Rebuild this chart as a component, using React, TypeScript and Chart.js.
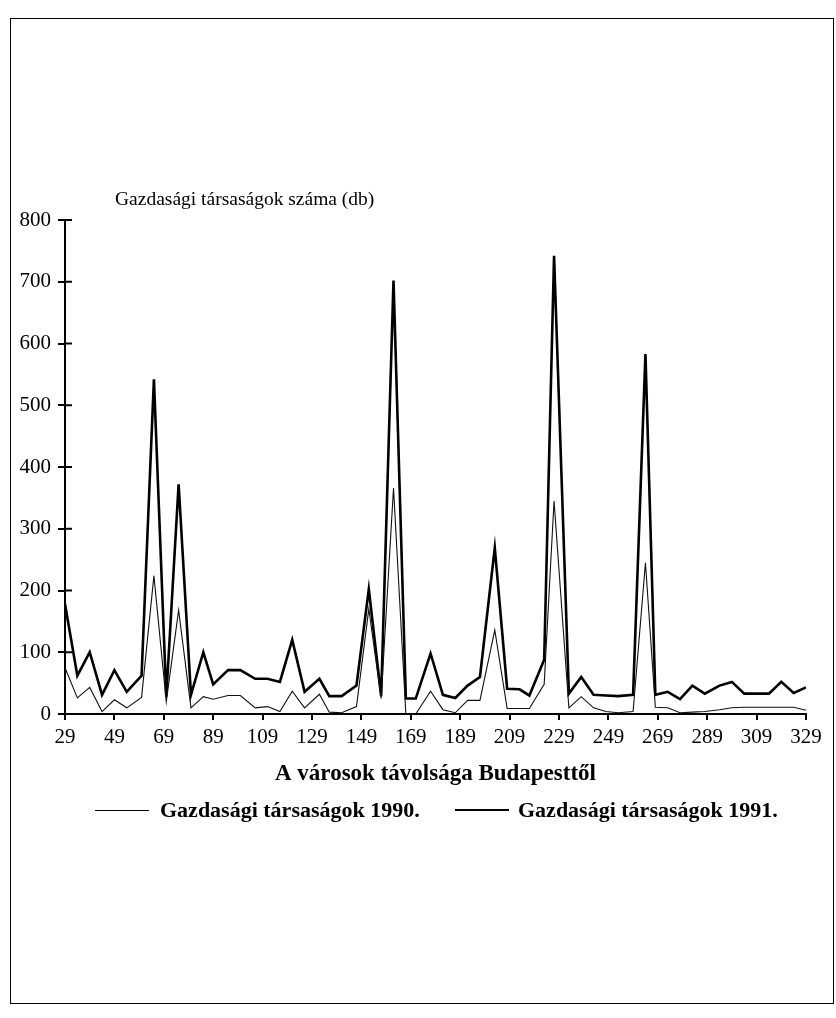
import React, { useEffect, useRef } from 'react';
import { Chart, registerables } from 'chart.js';

Chart.register(...registerables);

// Distance of each town from Budapest (km)
const distances = [
  29, 34, 39, 44, 49, 54, 60, 65, 70, 75,
  80, 85, 89, 95, 100, 106, 111, 116, 121, 126,
  132, 136, 141, 147, 152, 157, 162, 167, 171, 177,
  182, 187, 192, 197, 203, 208, 213, 217, 223, 227,
  233, 238, 243, 248, 253, 259, 264, 268, 273, 278,
  283, 288, 294, 299, 304, 309, 314, 319, 324, 329,
];

// Number of companies, 1990
const firms1990 = [
  75, 26, 43, 4, 23, 10, 27, 224, 20, 168,
  10, 28, 24, 30, 30, 10, 12, 4, 37, 10,
  32, 3, 2, 12, 170, 25, 366, 0, 0, 37,
  7, 2, 22, 22, 136, 9, 9, 9, 48, 345,
  10, 28, 10, 4, 2, 4, 245, 11, 10, 2,
  3, 4, 7, 10, 11, 11, 11, 11, 11, 6,
];

// Number of companies, 1991
const firms1991 = [
  178, 62, 100, 31, 71, 36, 62, 542, 28, 372,
  31, 100, 48, 71, 71, 57, 57, 52, 120, 36,
  57, 29, 29, 46, 202, 29, 702, 25, 25, 98,
  31, 26, 46, 60, 269, 41, 40, 30, 88, 742,
  33, 60, 31, 30, 29, 31, 583, 31, 36, 24,
  46, 33, 46, 52, 33, 33, 33, 52, 34, 43,
];

const xTickLabels = [29, 49, 69, 89, 109, 129, 149, 169, 189, 209, 229, 249, 269, 289, 309, 329];
const yTickValues = [0, 100, 200, 300, 400, 500, 600, 700, 800];

const chartTitle = 'Gazdasági társaságok száma (db)';
const xAxisTitle = 'A városok távolsága Budapesttől';
const seriesNames = ['Gazdasági társaságok 1990.', 'Gazdasági társaságok 1991.'];

const FONT = '"Liberation Serif", "Times New Roman", serif';

export default function App() {
  const ref = useRef<HTMLCanvasElement>(null);

  useEffect(() => {
    if (!ref.current) return;
    const crossTicks = {
      id: 'crossTicks',
      afterDraw(chart: any) {
        const { ctx, chartArea } = chart;
        const y = chart.scales.y;
        ctx.save();
        ctx.strokeStyle = '#000';
        ctx.lineWidth = 2;
        yTickValues.forEach((v) => {
          const py = y.getPixelForValue(v);
          ctx.beginPath();
          ctx.moveTo(chartArea.left, py);
          ctx.lineTo(chartArea.left + 7, py);
          ctx.stroke();
        });
        ctx.restore();
      },
    };

    const chart = new Chart(ref.current, {
      type: 'line',
      data: {
        datasets: [
          {
            label: seriesNames[0],
            data: distances.map((d, i) => ({ x: d, y: firms1990[i] })),
            borderColor: '#111',
            borderWidth: 1.1,
            pointRadius: 0,
            tension: 0,
          },
          {
            label: seriesNames[1],
            data: distances.map((d, i) => ({ x: d, y: firms1991[i] })),
            borderColor: '#000',
            borderWidth: 2.6,
            pointRadius: 0,
            tension: 0,
          },
        ],
      },
      options: {
        responsive: false,
        animation: false,
        events: [],
        layout: { padding: { left: 10, right: 30, top: 220, bottom: 12 } },
        plugins: {
          legend: { display: false },
          title: { display: false },
          tooltip: { enabled: false },
        },
        scales: {
          x: {
            type: 'linear',
            min: 29,
            max: 329,
            afterBuildTicks: (s: any) => {
              s.ticks = xTickLabels.map((v) => ({ value: v }));
            },
            afterFit: (s: any) => {
              s.height = 74;
            },
            grid: { drawOnChartArea: false, drawTicks: true, tickLength: 6, color: '#000', lineWidth: 2 },
            border: { display: true, color: '#000', width: 2 },
            ticks: {
              color: '#000',
              font: { family: FONT, size: 21 },
              padding: 5,
              maxRotation: 0,
              autoSkip: false,
              callback: (v: any) => String(v),
            },
            title: {
              display: true,
              text: xAxisTitle,
              color: '#000',
              font: { family: FONT, size: 23, weight: 'bold' },
              padding: { top: 0, bottom: 0 },
            },
          },
          y: {
            type: 'linear',
            min: 0,
            max: 800,
            afterBuildTicks: (s: any) => {
              s.ticks = yTickValues.map((v) => ({ value: v }));
            },
            afterFit: (s: any) => {
              s.width = 55;
            },
            grid: { drawOnChartArea: false, drawTicks: true, tickLength: 7, color: '#000', lineWidth: 2 },
            border: { display: true, color: '#000', width: 2 },
            ticks: {
              color: '#000',
              font: { family: FONT, size: 21 },
              padding: 7,
              autoSkip: false,
              callback: (v: any) => String(v),
            },
          },
        },
      },
      plugins: [crossTicks],
    });
    return () => chart.destroy();
  }, []);

  const legendText: React.CSSProperties = {
    position: 'absolute',
    top: 797,
    fontFamily: FONT,
    fontWeight: 'bold',
    fontSize: 22,
    lineHeight: '26px',
    whiteSpace: 'nowrap',
    color: '#000',
  };

  return (
    <div style={{ position: 'absolute', left: 0, top: 0, width: 836, height: 1018, background: '#fff', overflow: 'hidden' }}>
      <div style={{ position: 'absolute', left: 10, top: 18, width: 822, height: 984, border: '1.5px solid #000' }} />
      <canvas ref={ref} width={836} height={800} style={{ position: 'absolute', left: 0, top: 0 }} />
      <div
        style={{
          position: 'absolute',
          left: 115,
          top: 187,
          fontFamily: FONT,
          fontSize: 19.5,
          lineHeight: '24px',
          whiteSpace: 'nowrap',
          color: '#000',
        }}
      >
        {chartTitle}
      </div>
      <div style={{ position: 'absolute', left: 95, top: 810, width: 54, height: 0, borderTop: '1.2px solid #000' }} />
      <div style={{ ...legendText, left: 160 }}>{seriesNames[0]}</div>
      <div style={{ position: 'absolute', left: 455, top: 809, width: 54, height: 0, borderTop: '2.6px solid #000' }} />
      <div style={{ ...legendText, left: 518 }}>{seriesNames[1]}</div>
    </div>
  );
}
